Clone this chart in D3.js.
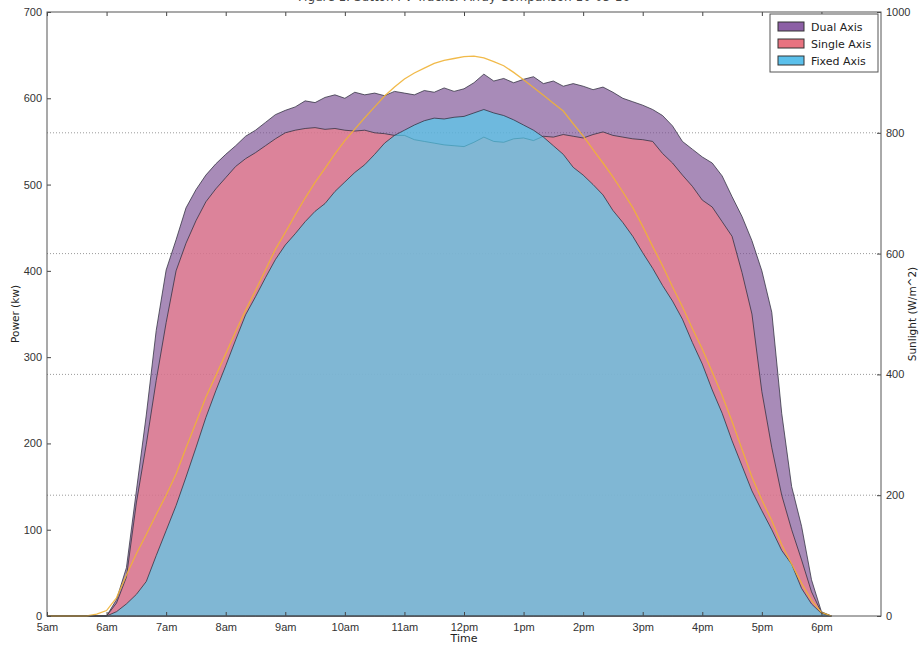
<!DOCTYPE html>
<html lang="en">
<head>
    <meta charset="UTF-8">
    <title>PV Tracker Array Comparison</title>
    <script src="https://d3js.org/d3.v7.min.js"></script>
    <style>
        body { margin: 0; background: #fff; }
        svg { display: block; font-family: "DejaVu Sans", sans-serif; }
    </style>
</head>
<body>
<svg id="chart" width="920" height="645"></svg>

<script>
  // Sample times, every 10 minutes
  var times = ["5:00","5:10","5:20","5:30","5:40","5:50",
    "6:00","6:10","6:20","6:30","6:40","6:50","7:00","7:10","7:20","7:30","7:40","7:50",
    "8:00","8:10","8:20","8:30","8:40","8:50","9:00","9:10","9:20","9:30","9:40","9:50",
    "10:00","10:10","10:20","10:30","10:40","10:50","11:00","11:10","11:20","11:30","11:40","11:50",
    "12:00","12:10","12:20","12:30","12:40","12:50","13:00","13:10","13:20","13:30","13:40","13:50",
    "14:00","14:10","14:20","14:30","14:40","14:50","15:00","15:10","15:20","15:30","15:40","15:50",
    "16:00","16:10","16:20","16:30","16:40","16:50","17:00","17:10","17:20","17:30","17:40","17:50",
    "18:00","18:10"];

  // Power (kw)
  var dualAxis = [0,0,0,0,0,0,
    0,19,56,145,233,331,401,436,473,494,511,524,
    535,545,556,563,572,581,586,590,597,595,601,604,
    600,607,604,606,603,608,606,604,609,607,612,608,
    611,618,628,620,623,618,622,625,617,620,614,617,
    614,610,613,607,600,596,592,587,580,568,550,541,
    532,525,510,486,463,435,400,352,235,150,104,42,
    5,0];
  var singleAxis = [0,0,0,0,0,0,
    0,15,45,131,199,273,340,400,432,458,480,495,
    508,521,530,537,545,553,560,563,565,566,564,565,
    563,562,563,560,559,557,557,552,550,548,546,545,
    544,549,555,550,549,553,554,551,556,555,558,556,
    554,558,561,557,555,553,552,550,536,525,511,498,
    482,474,457,440,398,350,260,195,140,100,65,28,
    4,0];
  var fixedAxis = [0,0,0,0,0,0,
    0,5,14,25,40,70,99,128,161,195,230,261,
    290,320,349,370,392,413,430,443,457,469,478,492,
    503,514,523,535,548,557,563,569,574,577,576,578,
    579,583,587,583,580,575,569,563,555,545,535,520,
    511,500,488,470,456,440,421,403,383,365,344,317,
    292,262,235,203,174,145,122,100,76,60,32,14,
    3,0];

  // Sunlight (W/m^2)
  var sunlight = [0,0,0,0,0,3,
    9,30,68,103,135,168,200,235,278,320,362,398,
    434,471,506,539,573,607,635,664,692,718,741,765,
    787,806,825,843,861,876,889,899,907,915,920,923,
    926,927,924,918,911,900,888,875,862,849,836,815,
    795,772,750,727,702,676,645,612,580,545,512,476,
    442,404,365,322,276,230,192,158,118,86,54,26,
    6,0];

  var hourTicks = [5,6,7,8,9,10,11,12,13,14,15,16,17,18];
  var hourLabels = ["5am","6am","7am","8am","9am","10am","11am","12pm","1pm","2pm","3pm","4pm","5pm","6pm"];
  var powerTicks = [0,100,200,300,400,500,600,700];
  var sunTicks = [0,200,400,600,800,1000];

  var seriesNames = ["Dual Axis","Single Axis","Fixed Axis"];
  var seriesFill = ["#794d92","#f8808a","#4fd2f2"];
  var legendFill = ["#8c5fa5","#e87380","#5bc0eb"];

  var svg = d3.select("#chart");
  // plot box
  var pLeft = 47, pRight = 881, pTop = 12, pBottom = 616;

  var x = d3.scaleLinear().domain([5, 19]).range([pLeft, pRight]);
  var y = d3.scaleLinear().domain([0, 700]).range([pBottom, pTop]);
  var ySun = d3.scaleLinear().domain([0, 1000]).range([pBottom, pTop]);

  var hours = times.map(function(t) {
    var p = t.split(":");
    return +p[0] + p[1] / 60;
  });

  // title, mostly cut off at the top edge
  svg.append("text")
    .attr("x", 464).attr("y", 1)
    .attr("text-anchor", "middle")
    .attr("font-size", 12).attr("fill", "#444")
    .text("Figure 1: Sutton PV Tracker Array Comparison 10-05-16");

  // dotted grid from the sunlight axis
  svg.append("g")
    .selectAll("line")
    .data(sunTicks.slice(1, -1))
    .enter().append("line")
      .attr("x1", pLeft).attr("x2", pRight)
      .attr("y1", function(d) { return ySun(d); })
      .attr("y2", function(d) { return ySun(d); })
      .attr("stroke", "#9a9a9a")
      .attr("stroke-dasharray", "1,2");

  // Draw the areas
  var area = d3.area()
    .x(function(d, i) { return x(hours[i]); })
    .y0(y(0))
    .y1(function(d) { return y(d); });

  [dualAxis, singleAxis, fixedAxis].forEach(function(s, i) {
    svg.append("path")
      .datum(s)
      .attr("d", area)
      .attr("fill", seriesFill[i])
      .attr("fill-opacity", 0.65)
      .attr("stroke", "#2e2e3c")
      .attr("stroke-opacity", 0.75)
      .attr("stroke-width", 1);
  });

  // sunlight line
  var line = d3.line()
    .x(function(d, i) { return x(hours[i]); })
    .y(function(d) { return ySun(d); });

  svg.append("path")
    .datum(sunlight)
    .attr("d", line)
    .attr("fill", "none")
    .attr("stroke", "#f0b236")
    .attr("stroke-opacity", 0.9)
    .attr("stroke-width", 1.3);

  // Axes, ticks pointing inward
  function styleAxis(g) {
    g.select(".domain").remove();
    g.selectAll(".tick line").attr("stroke", "#444");
    g.selectAll(".tick text").attr("fill", "#333").attr("font-size", 11);
  }

  svg.append("g")
    .attr("transform", "translate(0," + pBottom + ")")
    .call(d3.axisBottom(x).tickValues(hourTicks).tickSize(-4).tickPadding(7)
      .tickFormat(function(d, i) { return hourLabels[i]; }))
    .call(styleAxis);

  svg.append("g")
    .attr("transform", "translate(0," + pTop + ")")
    .call(d3.axisTop(x).tickValues(hourTicks).tickSize(-4).tickFormat(""))
    .call(styleAxis);

  svg.append("g")
    .attr("transform", "translate(" + pLeft + ",0)")
    .call(d3.axisLeft(y).tickValues(powerTicks).tickSize(-4).tickPadding(5))
    .call(styleAxis);

  svg.append("g")
    .attr("transform", "translate(" + pRight + ",0)")
    .call(d3.axisRight(ySun).tickValues(sunTicks).tickSize(-4).tickPadding(5)
      .tickFormat(d3.format("d")))
    .call(styleAxis);

  svg.append("rect")
    .attr("x", pLeft).attr("y", pTop)
    .attr("width", pRight - pLeft).attr("height", pBottom - pTop)
    .attr("fill", "none")
    .attr("stroke", "#555");

  // axis labels
  svg.append("text")
    .attr("x", 464).attr("y", 642)
    .attr("text-anchor", "middle")
    .attr("font-size", 11).attr("fill", "#222")
    .text("Time");

  svg.append("text")
    .attr("transform", "translate(19,314) rotate(-90)")
    .attr("text-anchor", "middle")
    .attr("font-size", 10.5).attr("fill", "#222")
    .text("Power (kw)");

  svg.append("text")
    .attr("transform", "translate(916,314) rotate(-90)")
    .attr("text-anchor", "middle")
    .attr("font-size", 10.5).attr("fill", "#222")
    .text("Sunlight (W/m^2)");

  // Legend
  var legend = svg.append("g").attr("transform", "translate(770,14)");
  legend.append("rect")
    .attr("width", 108).attr("height", 58)
    .attr("fill", "#fff")
    .attr("stroke", "#555");

  var item = legend.selectAll(".item")
    .data(seriesNames)
    .enter().append("g")
      .attr("class", "item")
      .attr("transform", function(d, i) { return "translate(8," + (8 + i * 17) + ")"; });

  item.append("rect")
    .attr("width", 26).attr("height", 9)
    .attr("fill", function(d, i) { return legendFill[i]; })
    .attr("stroke", "#333");

  item.append("text")
    .attr("x", 33).attr("y", 9)
    .attr("font-size", 11).attr("fill", "#222")
    .text(function(d) { return d; });
</script>
</body>
</html>
